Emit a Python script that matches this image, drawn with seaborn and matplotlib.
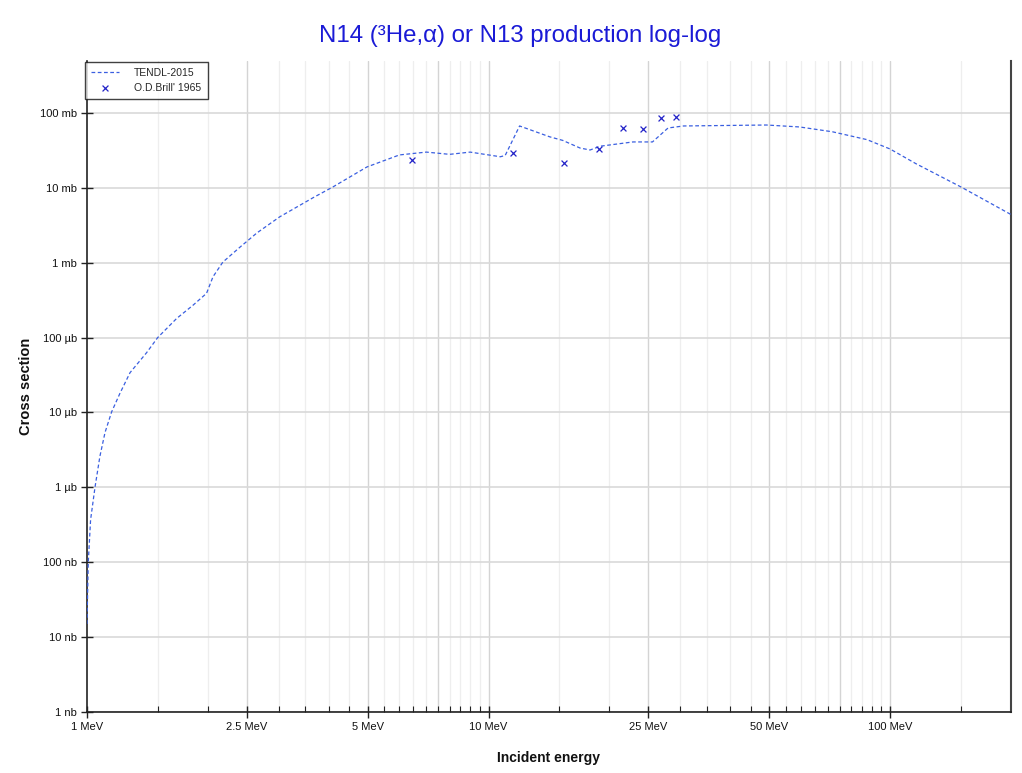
import matplotlib
matplotlib.use("Agg")
import matplotlib.pyplot as plt
import matplotlib.ticker as mticker
import numpy as np
import pandas as pd
import seaborn as sns

# TENDL-2015 evaluated curve (energy in MeV, cross section in mb)
tendl_energy = [1.0, 1.0075, 1.021, 1.047, 1.077, 1.109, 1.152, 1.208, 1.28, 1.408,
                1.50, 1.672, 1.836, 1.985, 2.06, 2.18, 2.40, 2.65, 3.02, 3.66,
                4.10, 4.98, 6.0, 7.0, 8.0, 9.0, 10.7, 11.0, 11.95, 14.2,
                15.3, 16.9, 17.9, 19.0, 22.9, 25.6, 28.0, 30.6, 49.2, 59.5,
                71.9, 87.6, 100.0, 116.0, 150.0, 200.0]
tendl_xs = [1.5e-5, 1.0e-4, 3.7e-4, 1.0e-3, 2.6e-3, 5.4e-3, 0.0102, 0.018, 0.034, 0.063,
            0.10, 0.18, 0.27, 0.39, 0.65, 1.02, 1.6, 2.5, 4.1, 7.4,
            10.3, 19.0, 27.5, 30.0, 28.0, 30.0, 26.0, 27.0, 67.0, 48.0,
            43.0, 34.0, 32.0, 36.0, 41.0, 41.0, 63.0, 67.0, 69.0, 65.0,
            56.0, 44.0, 33.0, 21.0, 10.3, 4.4]

# O.D.Brill' 1965 measurements
brill_energy = [6.45, 11.5, 15.4, 18.8, 21.6, 24.2, 26.9, 29.3]
brill_xs = [23.5, 29.0, 21.5, 33.0, 63.0, 61.0, 86.0, 88.0]

ytick_values = [1e-6, 1e-5, 1e-4, 1e-3, 1e-2, 1e-1, 1, 10, 100]
ytick_labels = ["1 nb", "10 nb", "100 nb", "1 µb", "10 µb", "100 µb", "1 mb", "10 mb", "100 mb"]
xtick_values = [1, 2.5, 5, 10, 25, 50, 100]
xtick_labels = ["1 MeV", "2.5 MeV", "5 MeV", "10 MeV", "25 MeV", "50 MeV", "100 MeV"]
xgrid_dark = [2.5, 5, 7.5, 10, 25, 50, 75, 100]
xminor = ([1.5, 2, 3, 3.5, 4, 4.5] + [5.5, 6, 6.5, 7, 8, 8.5, 9, 9.5]
          + [15, 20, 30, 35, 40, 45] + [55, 60, 65, 70, 80, 85, 90, 95, 150])

sns.set_theme(style="white")
plt.rcParams["font.family"] = ["Liberation Sans", "DejaVu Sans"]

tendl = pd.DataFrame({"energy": tendl_energy, "xs": tendl_xs})
brill = pd.DataFrame({"energy": brill_energy, "xs": brill_xs})

fig = plt.figure(figsize=(10.22, 7.73), dpi=100)
ax = fig.add_axes([0.0851, 0.0789, 0.9041, 0.8427])
ax.set_xscale("log")
ax.set_yscale("log")

# grid first so it sits under the data
for v in xminor:
    ax.axvline(v, color="#eeeeee", lw=0.9, zorder=0)
for v in xgrid_dark:
    ax.axvline(v, color="#d4d4d4", lw=1.0, zorder=0)
for v in ytick_values:
    ax.axhline(v, color="#d9d9d9", lw=1.2, zorder=0)

sns.lineplot(data=tendl, x="energy", y="xs", ax=ax, color="#3a5fe0", lw=0.9,
             linestyle=(0, (3, 2)), label="TENDL-2015", zorder=3)
sns.scatterplot(data=brill, x="energy", y="xs", ax=ax, marker="x", s=18,
                color="#2323c8", linewidth=0.9, label="O.D.Brill' 1965", zorder=4)

ax.set_xlim(1, 200)
ax.set_ylim(1e-6, 500)

ax.xaxis.set_major_locator(mticker.FixedLocator(xtick_values))
ax.xaxis.set_major_formatter(mticker.FixedFormatter(xtick_labels))
ax.xaxis.set_minor_locator(mticker.FixedLocator(xminor + [7.5, 75]))
ax.xaxis.set_minor_formatter(mticker.NullFormatter())
ax.yaxis.set_major_locator(mticker.FixedLocator(ytick_values))
ax.yaxis.set_major_formatter(mticker.FixedFormatter(ytick_labels))
ax.yaxis.set_minor_locator(mticker.NullLocator())

ax.tick_params(axis="both", which="major", direction="inout", length=8, width=1.0,
               color="#222222", labelcolor="#111111", labelsize=8, pad=3,
               bottom=True, left=True)
ax.tick_params(axis="x", which="minor", direction="in", length=4, width=0.8,
               color="#222222", bottom=True)

for side in ["left", "bottom"]:
    ax.spines[side].set_color("#222222")
    ax.spines[side].set_linewidth(1.2)
ax.spines["right"].set_color("#444444")
ax.spines["right"].set_linewidth(1.5)
ax.spines["top"].set_visible(False)

ax.set_xlabel("Incident energy", fontsize=10, fontweight="bold", labelpad=14, color="#111111")
ax.set_ylabel("Cross section", fontsize=10.5, fontweight="bold", labelpad=5, color="#111111")
fig.text(0.509, 0.953, "N14 (³He,α) or N13 production log-log", ha="center", va="center",
         fontsize=17.3, color="#1a1ad6")

leg = ax.legend(loc="upper left", bbox_to_anchor=(-0.003, 1.0), fontsize=7.5,
                frameon=True, fancybox=False, borderaxespad=0.1, handlelength=2.6,
                borderpad=0.6, labelspacing=0.45, handletextpad=1.5)
leg.get_frame().set_edgecolor("#111111")
leg.get_frame().set_linewidth(1.0)

fig.savefig("out.png", dpi=100)
